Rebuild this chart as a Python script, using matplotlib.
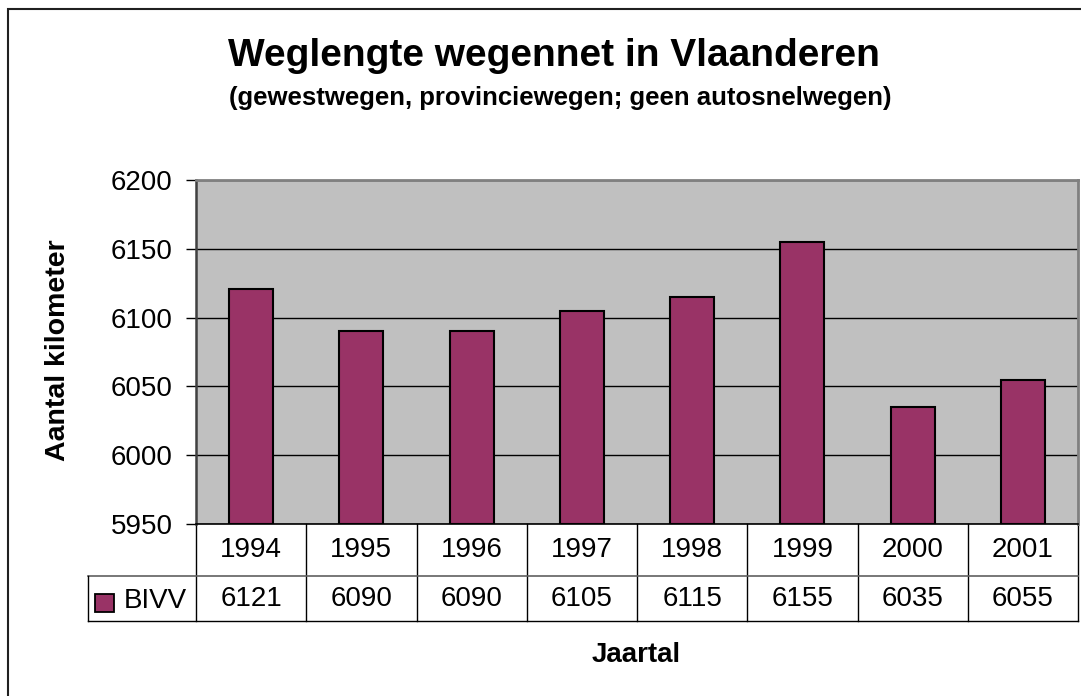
import matplotlib.pyplot as plt
import matplotlib.transforms as mtransforms
from matplotlib.patches import Rectangle

years = ['1994', '1995', '1996', '1997', '1998', '1999', '2000', '2001']
bivv = [6121, 6090, 6090, 6105, 6115, 6155, 6035, 6055]
series_name = 'BIVV'
yticks = [5950, 6000, 6050, 6100, 6150, 6200]

plt.rcParams['font.family'] = ['Liberation Sans', 'DejaVu Sans']

W, H = 1081, 696
fig = plt.figure(figsize=(W / 100, H / 100), dpi=100)

# plot area in pixels
left, right, top, bottom = 196, 1078, 180, 524
ax = fig.add_axes([left / W, 1 - bottom / H, (right - left) / W, (bottom - top) / H])
ax.set_facecolor('#C0C0C0')

x = list(range(len(years)))
ax.bar(x, [v - yticks[0] for v in bivv], bottom=yticks[0], width=0.4,
       color='#993366', edgecolor='black', linewidth=1.5, zorder=3)

ax.set_xlim(-0.5, len(years) - 0.5)
ax.set_ylim(yticks[0], yticks[-1])
ax.set_yticks(yticks)
ax.set_yticklabels([str(t) for t in yticks], fontsize=20)
ax.set_xticks([])
ax.tick_params(axis='y', direction='out', length=7, width=1, pad=10)
ax.grid(axis='y', color='black', linewidth=1)
ax.set_axisbelow(True)

for s in ['top', 'right']:
    ax.spines[s].set_color('#808080')
    ax.spines[s].set_linewidth(2)
ax.spines['left'].set_color('#404040')
ax.spines['left'].set_linewidth(1.8)
ax.spines['bottom'].set_color('black')
ax.spines['bottom'].set_linewidth(1.2)

# data table below the axis
h = bottom - top
row1 = -(576 - bottom) / h
row2 = -(621 - bottom) / h
tleft = (88 - left) / (right - left)
trans = mtransforms.blended_transform_factory(ax.transData, ax.transAxes)
atr = ax.transAxes
lk = dict(color='black', linewidth=1, clip_on=False)

for i in range(len(years) + 1):
    ax.plot([i - 0.5, i - 0.5], [0, row2], transform=trans, **lk)
ax.plot([tleft, 1], [row1, row1], transform=atr, color='#606060', linewidth=1.2, clip_on=False)
ax.plot([tleft, 1], [row2, row2], transform=atr, **lk)
ax.plot([tleft, tleft], [row1, row2], transform=atr, **lk)

for i, (yr, v) in enumerate(zip(years, bivv)):
    ax.text(i, row1 / 2, yr, transform=trans, ha='center', va='center', fontsize=20)
    ax.text(i, (row1 + row2) / 2, str(v), transform=trans, ha='center', va='center', fontsize=20)

# legend key in table
ax.add_patch(Rectangle((95, H - 612), 19, 18, transform=None, facecolor='#993366',
                       edgecolor='black', linewidth=1.3, clip_on=False))
fig.text(124 / W, 1 - 601 / H, series_name, ha='left', va='center', fontsize=20)

# titles
fig.text(554 / W, 1 - 56 / H, 'Weglengte wegennet in Vlaanderen', ha='center', va='center',
         fontsize=28, fontweight='bold')
fig.text(560 / W, 1 - 98 / H, '(gewestwegen, provinciewegen; geen autosnelwegen)', ha='center',
         va='center', fontsize=18.5, fontweight='bold')
fig.text(58 / W, 1 - 350 / H, 'Aantal kilometer', rotation=90, ha='center', va='center',
         fontsize=20.5, fontweight='bold')
fig.text(636 / W, 1 - 655 / H, 'Jaartal', ha='center', va='center', fontsize=20, fontweight='bold')

# chart area border (right and bottom fall outside the image)
fig.add_artist(Rectangle((8, -10), W + 20, H - 9 + 10, transform=None, fill=False,
                         edgecolor='#202020', linewidth=1.5))

fig.savefig('out.png', dpi=100)
